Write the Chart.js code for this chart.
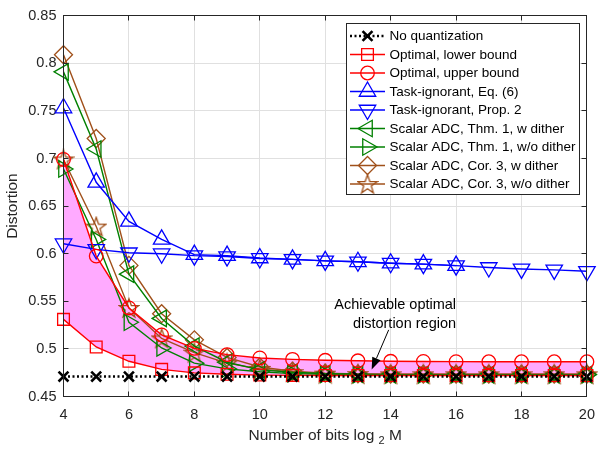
<!DOCTYPE html>
<html>
<head>
<meta charset="utf-8">
<script src="https://cdn.jsdelivr.net/npm/chart.js@4.4.0/dist/chart.umd.min.js"></script>
<style>
  html, body { margin: 0; padding: 0; background: #fff; }
  #wrap { width: 605px; height: 450px; }
</style>
</head>
<body>
<div id="wrap"><canvas id="c" width="605" height="450"></canvas></div>
<script>
// values, one per bit count
var bits = [4, 5, 6, 7, 8, 9, 10, 11, 12, 13, 14, 15, 16, 17, 18, 19, 20];
var noQuant = [0.471, 0.471, 0.471, 0.471, 0.471, 0.471, 0.471, 0.471, 0.471, 0.471, 0.471, 0.471, 0.471, 0.471, 0.471, 0.471, 0.471];
var optLower = [0.531, 0.502, 0.487, 0.4785, 0.4748, 0.4733, 0.4725, 0.4722, 0.472, 0.472, 0.472, 0.472, 0.472, 0.472, 0.472, 0.472, 0.472];
var optUpper = [0.699, 0.5975, 0.543, 0.5147, 0.5005, 0.494, 0.4905, 0.489, 0.488, 0.4875, 0.487, 0.4868, 0.4866, 0.4865, 0.4865, 0.4865, 0.4865];
var taskEq6 = [0.753, 0.675, 0.634, 0.615, 0.599, 0.598, 0.5955, 0.594, 0.5925, 0.5915, 0.590, 0.589, 0.5875, null, null, null, null];
var taskProp2 = [0.6105, 0.6045, 0.601, 0.600, 0.598, 0.597, 0.595, 0.594, 0.5925, 0.5915, 0.590, 0.589, 0.5875, 0.5855, 0.584, 0.583, 0.5815];
var thm1Dither = [0.791, 0.710, 0.5785, 0.532, 0.503, 0.486, 0.478, 0.4755, 0.474, 0.4735, 0.473, 0.473, 0.473, 0.473, 0.473, 0.473, 0.473];
var thm1NoDither = [0.689, 0.615, 0.528, 0.501, 0.485, 0.479, 0.476, 0.474, 0.4733, 0.473, 0.473, 0.473, 0.473, 0.473, 0.473, 0.473, 0.473];
var cor3Dither = [0.809, 0.721, 0.5877, 0.537, 0.5095, 0.491, 0.481, 0.4765, 0.4745, 0.4738, 0.4735, 0.4735, 0.4735, 0.4735, 0.4735, 0.4735, 0.4735];
var cor3NoDither = [0.699, 0.6285, 0.543, 0.511, 0.496, 0.485, 0.479, 0.4755, 0.474, 0.4735, 0.4733, 0.4733, 0.4733, 0.4733, 0.4733, 0.4733, 0.4733];

var xTicks = [4, 6, 8, 10, 12, 14, 16, 18, 20];
var yTicks = [0.45, 0.5, 0.55, 0.6, 0.65, 0.7, 0.75, 0.8, 0.85];
var yTickLabels = ['0.45', '0.5', '0.55', '0.6', '0.65', '0.7', '0.75', '0.8', '0.85'];

var FONT = '"Liberation Sans", Arial, Helvetica, sans-serif';
var AXIS = '#262626';
var RED = '#ff0000', BLUE = '#0000ff', GREEN = '#008000', BROWN = '#a0501a';

Chart.defaults.font.family = FONT;

// pentagram marker, Chart.js has no outline star
function makeStar(color) {
  var cv = document.createElement('canvas');
  cv.width = 22; cv.height = 22;
  var g = cv.getContext('2d');
  g.strokeStyle = color; g.lineWidth = 1.3;
  g.beginPath();
  for (var k = 0; k < 10; k++) {
    var r = (k % 2 === 0) ? 10 : 4;
    var a = -Math.PI / 2 + k * Math.PI / 5;
    var px = 11 + r * Math.cos(a), py = 11.8 + r * Math.sin(a);
    if (k === 0) g.moveTo(px, py); else g.lineTo(px, py);
  }
  g.closePath();
  g.stroke();
  return cv;
}

function pts(vals) {
  return bits.map(function(b, i) { return { x: b, y: vals[i] }; });
}

function series(label, vals, color, style, radius, rot) {
  return {
    label: label,
    data: pts(vals),
    borderColor: color,
    borderWidth: 1.4,
    pointStyle: style,
    pointRotation: rot || 0,
    pointRadius: radius,
    pointBorderWidth: 1.3,
    pointBorderColor: color,
    pointBackgroundColor: 'rgba(0,0,0,0)',
    tension: 0,
    fill: false,
    clip: false,
    spanGaps: false
  };
}

var dsNoQuant = series('No quantization', noQuant, '#000000', 'crossRot', 7, 0);
dsNoQuant.borderWidth = 2.5;
dsNoQuant.borderDash = [2, 2.5];
dsNoQuant.pointBorderWidth = 2.6;

var dsUpper = series('Optimal, upper bound', optUpper, RED, 'circle', 6.8, 0);
dsUpper.fill = { target: 1, above: 'rgb(255,170,255)', below: 'rgb(255,170,255)' };

var datasets = [
  dsNoQuant,
  series('Optimal, lower bound', optLower, RED, 'rect', 8.3, 0),
  dsUpper,
  series('Task-ignorant, Eq. (6)', taskEq6, BLUE, 'triangle', 9.5, 0),
  series('Task-ignorant, Prop. 2', taskProp2, BLUE, 'triangle', 9.5, 180),
  series('Scalar ADC, Thm. 1, w dither', thm1Dither, GREEN, 'triangle', 9.5, 270),
  series('Scalar ADC, Thm. 1, w/o dither', thm1NoDither, GREEN, 'triangle', 9.5, 90),
  series('Scalar ADC, Cor. 3, w dither', cor3Dither, BROWN, 'rectRot', 9, 0),
  series('Scalar ADC, Cor. 3, w/o dither', cor3NoDither, BROWN, makeStar(BROWN), 9, 0)
];

// box with inward ticks like the original axes
var frame = {
  id: 'frame',
  afterDatasetsDraw: function(chart) {
    var ctx = chart.ctx, a = chart.chartArea;
    var xs = chart.scales.x, ys = chart.scales.y;
    var L = Math.floor(a.left) + 0.5, R = Math.floor(a.right) + 0.5;
    var T = Math.floor(a.top) + 0.5, B = Math.floor(a.bottom) + 0.5;
    ctx.save();
    ctx.strokeStyle = AXIS;
    ctx.lineWidth = 1;
    ctx.strokeRect(L, T, R - L, B - T);
    ctx.beginPath();
    xTicks.forEach(function(v) {
      var x = Math.floor(xs.getPixelForValue(v)) + 0.5;
      ctx.moveTo(x, B); ctx.lineTo(x, B - 5);
      ctx.moveTo(x, T); ctx.lineTo(x, T + 5);
    });
    yTicks.forEach(function(v) {
      var y = Math.floor(ys.getPixelForValue(v)) + 0.5;
      ctx.moveTo(L, y); ctx.lineTo(L + 5, y);
      ctx.moveTo(R, y); ctx.lineTo(R - 5, y);
    });
    ctx.stroke();

    // axis titles
    ctx.fillStyle = AXIS;
    ctx.font = '15.5px ' + FONT;
    ctx.textBaseline = 'alphabetic';
    var t1 = 'Number of bits log ', t2 = '2', t3 = ' M';
    var w1 = ctx.measureText(t1).width, w3 = ctx.measureText(t3).width;
    ctx.font = '11px ' + FONT;
    var w2 = ctx.measureText(t2).width;
    var cx = (a.left + a.right) / 2;
    var sx = cx - (w1 + w2 + w3) / 2;
    ctx.textAlign = 'left';
    ctx.font = '15.5px ' + FONT;
    ctx.fillText(t1, sx, 440);
    ctx.font = '11px ' + FONT;
    ctx.fillText(t2, sx + w1, 444);
    ctx.font = '15.5px ' + FONT;
    ctx.fillText(t3, sx + w1 + w2, 440);

    ctx.save();
    ctx.translate(13, (a.top + a.bottom) / 2);
    ctx.rotate(-Math.PI / 2);
    ctx.textAlign = 'center';
    ctx.textBaseline = 'middle';
    ctx.fillText('Distortion', 0, 0);
    ctx.restore();

    // annotation with arrow
    ctx.fillStyle = '#000';
    ctx.strokeStyle = '#000';
    ctx.font = '14.5px ' + FONT;
    ctx.textAlign = 'right';
    ctx.textBaseline = 'middle';
    var tx = xs.getPixelForValue(16);
    ctx.fillText('Achievable optimal', tx, ys.getPixelForValue(0.546));
    ctx.fillText('distortion region', tx, ys.getPixelForValue(0.5265));
    var x0 = xs.getPixelForValue(13.94), y0 = ys.getPixelForValue(0.520);
    var x1 = xs.getPixelForValue(13.42), y1 = ys.getPixelForValue(0.4784);
    var ang = Math.atan2(y1 - y0, x1 - x0);
    var hl = 12, hw = 4.5;
    var bxp = x1 - hl * Math.cos(ang), byp = y1 - hl * Math.sin(ang);
    ctx.lineWidth = 1;
    ctx.beginPath(); ctx.moveTo(x0, y0); ctx.lineTo(bxp, byp); ctx.stroke();
    ctx.beginPath();
    ctx.moveTo(x1, y1);
    ctx.lineTo(bxp + hw * Math.sin(ang), byp - hw * Math.cos(ang));
    ctx.lineTo(bxp - hw * Math.sin(ang), byp + hw * Math.cos(ang));
    ctx.closePath();
    ctx.fill();
    ctx.restore();
  }
};

var legendBox = {
  id: 'legendBox',
  afterDraw: function(chart) {
    var ctx = chart.ctx;
    var bx = 346.5, by = 23.5, bw = 233, bh = 171;
    ctx.save();
    ctx.fillStyle = '#fff';
    ctx.fillRect(bx, by, bw, bh);
    ctx.strokeStyle = AXIS;
    ctx.lineWidth = 1;
    ctx.strokeRect(bx, by, bw, bh);
    ctx.font = '13.5px ' + FONT;
    ctx.textBaseline = 'middle';
    ctx.textAlign = 'left';
    chart.data.datasets.forEach(function(ds, i) {
      var y = 36 + i * 18.5;
      ctx.save();
      ctx.strokeStyle = ds.borderColor;
      ctx.lineWidth = ds.borderWidth;
      ctx.setLineDash(ds.borderDash || []);
      ctx.beginPath(); ctx.moveTo(350, y); ctx.lineTo(385, y); ctx.stroke();
      ctx.setLineDash([]);
      ctx.lineWidth = ds.pointBorderWidth;
      ctx.fillStyle = 'rgba(0,0,0,0)';
      if (Chart.helpers && Chart.helpers.drawPoint) {
        Chart.helpers.drawPoint(ctx, {
          pointStyle: ds.pointStyle,
          rotation: ds.pointRotation,
          radius: ds.pointRadius,
          borderWidth: ds.pointBorderWidth
        }, 367.5, y);
      }
      ctx.restore();
      ctx.fillStyle = '#000';
      ctx.fillText(ds.label, 389.5, y + 0.5);
    });
    ctx.restore();
  }
};

new Chart(document.getElementById('c'), {
  type: 'line',
  data: { datasets: datasets },
  options: {
    responsive: false,
    animation: false,
    devicePixelRatio: 1,
    layout: { padding: { left: 0, top: 9.3, right: 10.5, bottom: 0 } },
    plugins: {
      legend: { display: false },
      tooltip: { enabled: false },
      filler: { drawTime: 'beforeDatasetsDraw' }
    },
    scales: {
      x: {
        type: 'linear',
        min: 4,
        max: 20,
        afterBuildTicks: function(s) { s.ticks = xTicks.map(function(v) { return { value: v }; }); },
        afterFit: function(s) { s.height = 53.5; },
        grid: { color: '#e0e0e0', drawTicks: false },
        border: { display: false },
        ticks: { color: AXIS, font: { size: 14.5 }, padding: 10, maxRotation: 0, autoSkip: false }
      },
      y: {
        type: 'linear',
        min: 0.45,
        max: 0.85,
        afterBuildTicks: function(s) { s.ticks = yTicks.map(function(v) { return { value: v }; }); },
        afterFit: function(s) { s.width = 63.5; },
        grid: { color: '#e0e0e0', drawTicks: false },
        border: { display: false },
        ticks: {
          color: AXIS,
          font: { size: 14.5 },
          padding: 7,
          autoSkip: false,
          callback: function(v, i) { return yTickLabels[i]; }
        }
      }
    }
  },
  plugins: [frame, legendBox]
});
</script>
</body>
</html>
